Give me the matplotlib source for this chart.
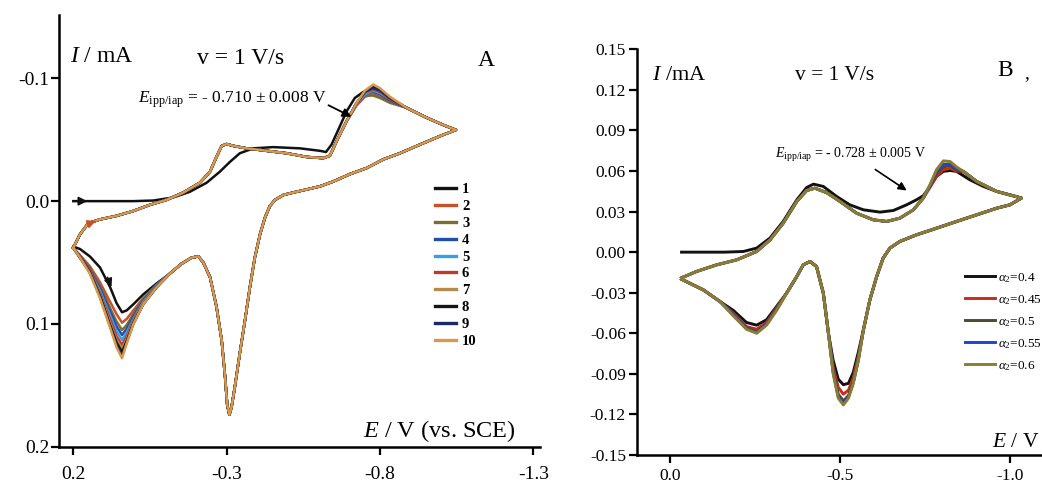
import matplotlib
matplotlib.use('Agg')
import matplotlib.pyplot as plt

plt.rcParams['font.family'] = ['Liberation Serif', 'DejaVu Serif']
plt.rcParams['mathtext.fontset'] = 'custom'
plt.rcParams['mathtext.rm'] = 'Liberation Serif'
plt.rcParams['mathtext.it'] = 'Liberation Serif:italic'
plt.rcParams['mathtext.bf'] = 'Liberation Serif:bold'

# ---------------- Panel A data (E / V, I / mA) ----------------
A_labels = ['1', '2', '3', '4', '5', '6', '7', '8', '9', '10']
A_colors = ['#111111', '#c8502a', '#7d6b35', '#1f4fa8', '#3a9ee6',
            '#c0392b', '#b8894a', '#151515', '#1b2a66', '#d9984a']

# cycle 1 forward scan (starts at I = 0)
A_c1_fwd_E = [0.200, 0.113, 0.004, -0.061, -0.126, -0.180, -0.235, -0.278, -0.311, -0.343,
              -0.387, -0.452, -0.539, -0.604, -0.624, -0.642, -0.664, -0.691, -0.718, -0.746,
              -0.773, -0.800, -0.843]
A_c1_fwd_I = [0.000, 0.000, 0.000, -0.0005, -0.003, -0.0076, -0.015, -0.024, -0.032, -0.039,
              -0.043, -0.044, -0.043, -0.041, -0.040, -0.046, -0.058, -0.073, -0.084, -0.089,
              -0.0905, -0.088, -0.081]

# forward scan of cycles 2-10 (shared part)
A_fwd_pre_E = [0.200, 0.178, 0.151, 0.113, 0.059, 0.004, -0.050, -0.104, -0.159, -0.213,
               -0.246, -0.267, -0.284, -0.300, -0.322, -0.365, -0.430, -0.496, -0.561, -0.615,
               -0.637, -0.659, -0.691]
A_fwd_pre_I = [0.038, 0.027, 0.018, 0.0149, 0.012, 0.008, 0.003, -0.001, -0.007, -0.015,
               -0.024, -0.036, -0.045, -0.0465, -0.045, -0.043, -0.041, -0.039, -0.036, -0.035,
               -0.037, -0.049, -0.065]
# second anodic peak, cycles 2..10
A_fwd_win_E = [-0.724, -0.751, -0.778, -0.800, -0.833]
A_fwd_win_I = [
    [-0.078, -0.085, -0.087, -0.085, -0.081],
    [-0.079, -0.086, -0.086, -0.084, -0.080],
    [-0.079, -0.087, -0.089, -0.087, -0.082],
    [-0.079, -0.087, -0.090, -0.088, -0.083],
    [-0.080, -0.088, -0.091, -0.089, -0.083],
    [-0.080, -0.088, -0.092, -0.090, -0.084],
    [-0.080, -0.089, -0.093, -0.091, -0.084],
    [-0.080, -0.089, -0.092, -0.090, -0.084],
    [-0.080, -0.090, -0.095, -0.092, -0.085],
]
A_fwd_post_E = [-0.887, -0.952, -1.007, -1.048]
A_fwd_post_I = [-0.076, -0.068, -0.062, -0.058]

# reverse scan (shared part)
A_rev_E = [-1.048, -0.996, -0.930, -0.865, -0.811, -0.757, -0.702, -0.648, -0.604, -0.561,
           -0.517, -0.485, -0.458, -0.441, -0.425, -0.409, -0.392, -0.376, -0.360, -0.343,
           -0.327, -0.316, -0.309, -0.302, -0.295, -0.284, -0.267, -0.246, -0.224, -0.208,
           -0.186, -0.153, -0.115]
A_rev_I = [-0.058, -0.053, -0.046, -0.039, -0.034, -0.027, -0.022, -0.016, -0.012, -0.0095,
           -0.007, -0.005, -0.001, 0.004, 0.0135, 0.027, 0.046, 0.070, 0.097, 0.124,
           0.151, 0.168, 0.174, 0.166, 0.143, 0.1135, 0.086, 0.062, 0.050, 0.045,
           0.046, 0.051, 0.059]
# first cathodic peak, cycles 1..10
A_rev_tail_E = [-0.072, -0.028, 0.004, 0.026, 0.041, 0.059, 0.080, 0.113, 0.146, 0.178, 0.200]
A_rev_tail_I = [
    [0.067, 0.076, 0.084, 0.089, 0.0905, 0.083, 0.070, 0.054, 0.045, 0.039, 0.037],
    [0.068, 0.079, 0.089, 0.096, 0.099, 0.092, 0.082, 0.066, 0.053, 0.044, 0.038],
    [0.069, 0.080, 0.092, 0.101, 0.105, 0.098, 0.087, 0.069, 0.055, 0.045, 0.038],
    [0.069, 0.081, 0.094, 0.104, 0.109, 0.102, 0.090, 0.071, 0.056, 0.045, 0.038],
    [0.069, 0.082, 0.096, 0.107, 0.113, 0.106, 0.093, 0.073, 0.057, 0.046, 0.038],
    [0.070, 0.083, 0.097, 0.110, 0.117, 0.110, 0.096, 0.075, 0.057, 0.046, 0.038],
    [0.070, 0.083, 0.098, 0.112, 0.120, 0.113, 0.099, 0.076, 0.058, 0.046, 0.038],
    [0.070, 0.084, 0.099, 0.114, 0.123, 0.115, 0.101, 0.077, 0.058, 0.046, 0.038],
    [0.070, 0.084, 0.100, 0.115, 0.126, 0.117, 0.102, 0.078, 0.058, 0.046, 0.038],
    [0.070, 0.084, 0.100, 0.116, 0.128, 0.119, 0.103, 0.079, 0.059, 0.046, 0.038],
]
A_xticks = [0.2, -0.3, -0.8, -1.3]
A_xticklabels = ['0.2', '-0.3', '-0.8', '-1.3']
A_yticks = [-0.1, 0.0, 0.1, 0.2]
A_yticklabels = ['-0.1', '0.0', '0.1', '0.2']

# ---------------- Panel B data ----------------
B_labels = [r'$\alpha_2$=0.4', r'$\alpha_2$=0.45', r'$\alpha_2$=0.5',
            r'$\alpha_2$=0.55', r'$\alpha_2$=0.6']
B_colors = ['#111111', '#cc2a1a', '#4d4a30', '#1a45d0', '#8c7d2e']

B_black_fwd_E = [-0.034, -0.100, -0.160, -0.216, -0.255, -0.294, -0.333, -0.373, -0.402, -0.422,
                 -0.451, -0.490, -0.529, -0.569, -0.618, -0.657, -0.696, -0.725, -0.745, -0.765,
                 -0.784, -0.804, -0.824, -0.843, -0.882, -0.922, -0.961, -1.000, -1.034]
B_black_fwd_I = [0.000, 0.000, 0.000, 0.0005, 0.003, 0.0104, 0.0227, 0.0387, 0.0478, 0.0503,
                 0.0486, 0.0412, 0.035, 0.0313, 0.0296, 0.0308, 0.035, 0.0387, 0.0417, 0.0486,
                 0.056, 0.0597, 0.0604, 0.0597, 0.0535, 0.0486, 0.0449, 0.0424, 0.040]

B_fwd_pre_E = [-0.034, -0.078, -0.137, -0.196, -0.255, -0.294, -0.333, -0.373, -0.402, -0.426,
               -0.461, -0.500, -0.549, -0.598, -0.637, -0.676, -0.716, -0.745]
B_fwd_pre_I = [-0.019, -0.0143, -0.0094, -0.0057, 0.0005, 0.009, 0.0214, 0.0375, 0.0456, 0.0473,
               0.044, 0.0375, 0.0288, 0.0239, 0.0227, 0.0251, 0.0313, 0.040]
B_fwd_win_E = [-0.765, -0.784, -0.804, -0.824, -0.843]
B_fwd_win_I = [
    [0.048, 0.056, 0.061, 0.062, 0.060],
    [0.049, 0.058, 0.063, 0.064, 0.061],
    [0.0495, 0.060, 0.065, 0.065, 0.062],
    [0.050, 0.061, 0.0675, 0.067, 0.063],
]
B_fwd_post_E = [-0.863, -0.902, -0.961, -1.034]
B_fwd_post_I = [0.0597, 0.0523, 0.0449, 0.040]

B_rev_pre_E = [-1.034, -1.000, -0.961, -0.902, -0.843, -0.784, -0.725, -0.676, -0.647, -0.627,
               -0.608, -0.588, -0.569]
B_rev_pre_I = [0.040, 0.035, 0.0325, 0.0276, 0.0227, 0.0177, 0.0128, 0.0079, 0.003, -0.0044,
               -0.018, -0.0352, -0.0574]
B_rev_win1_E = [-0.554, -0.539, -0.525, -0.510, -0.495, -0.480]
B_rev_win1_I = [
    [-0.074, -0.089, -0.097, -0.098, -0.094, -0.080],
    [-0.077, -0.093, -0.102, -0.105, -0.100, -0.085],
    [-0.079, -0.096, -0.106, -0.110, -0.105, -0.088],
    [-0.080, -0.097, -0.107, -0.112, -0.107, -0.089],
    [-0.080, -0.097, -0.108, -0.113, -0.108, -0.090],
]
B_rev_mid_E = [-0.466, -0.451, -0.431, -0.412, -0.392, -0.373, -0.343]
B_rev_mid_I = [-0.0599, -0.0303, -0.0106, -0.0069, -0.0094, -0.018, -0.0303]
B_rev_win2_E = [-0.314, -0.284, -0.255, -0.225, -0.186]
B_rev_win2_I = [
    [-0.040, -0.050, -0.054, -0.052, -0.043],
    [-0.041, -0.052, -0.057, -0.055, -0.045],
    [-0.042, -0.053, -0.059, -0.056, -0.046],
    [-0.0425, -0.0535, -0.0595, -0.0565, -0.0465],
    [-0.043, -0.054, -0.060, -0.057, -0.047],
]
B_rev_post_E = [-0.147, -0.098, -0.034]
B_rev_post_I = [-0.0365, -0.0279, -0.020]

B_xticks = [0.0, -0.5, -1.0]
B_xticklabels = ['0.0', '-0.5', '-1.0']
B_yticks = [0.15, 0.12, 0.09, 0.06, 0.03, 0.0, -0.03, -0.06, -0.09, -0.12, -0.15]
B_yticklabels = ['0.15', '0.12', '0.09', '0.06', '0.03', '0.00', '-0.03', '-0.06',
                 '-0.09', '-0.12', '-0.15']

# ---------------- figure ----------------
W, H = 1042, 486
fig = plt.figure(figsize=(W / 100, H / 100), dpi=100)


def px_rect(l, t, r, b):
    return [l / W, 1 - b / H, (r - l) / W, (b - t) / H]


def fx(x):
    return x / W


def fy(y):
    return 1 - y / H


axA = fig.add_axes(px_rect(59.3, 15, 540, 446.7))
axB = fig.add_axes(px_rect(637, 49.3, 1046, 455))

for ax in (axA, axB):
    ax.patch.set_alpha(0)
    for s in ('top', 'right'):
        ax.spines[s].set_visible(False)
    for s in ('left', 'bottom'):
        ax.spines[s].set_linewidth(1.8)
    ax.tick_params(direction='out', length=6, width=1.6, color='black')

# ---- panel A curves ----
for c in range(10):
    if c == 0:
        E = A_c1_fwd_E + A_fwd_post_E + A_rev_E + A_rev_tail_E
        I = A_c1_fwd_I + A_fwd_post_I + A_rev_I + A_rev_tail_I[0]
    else:
        E = A_fwd_pre_E + A_fwd_win_E + A_fwd_post_E + A_rev_E + A_rev_tail_E
        I = A_fwd_pre_I + A_fwd_win_I[c - 1] + A_fwd_post_I + A_rev_I + A_rev_tail_I[c]
    axA.plot(E, I, color=A_colors[c], lw=1.8, label=A_labels[c], solid_joinstyle='round')

axA.set_xlim(0.2456, -1.322)
axA.set_ylim(0.2, -0.1516)
axA.set_xticks(A_xticks)
axA.set_xticklabels(A_xticklabels)
axA.set_yticks(A_yticks)
axA.set_yticklabels(A_yticklabels)
axA.tick_params(labelsize=14)
axA.tick_params(axis='y', pad=1)
axA.tick_params(axis='x', pad=8)

# direction arrows on panel A
axA.annotate('', xy=(0.145, 0.0), xytext=(0.175, 0.0),
             arrowprops=dict(arrowstyle='-|>', color='#111111', lw=1.2, mutation_scale=13))
axA.annotate('', xy=(0.118, 0.0155), xytext=(0.140, 0.0175),
             arrowprops=dict(arrowstyle='-|>', color='#c8502a', lw=1.2, mutation_scale=12))
axA.annotate('', xy=(0.072, 0.072), xytext=(0.092, 0.060),
             arrowprops=dict(arrowstyle='-|>', color='#111111', lw=1.2, mutation_scale=12))

axA.legend(loc='upper left', bbox_to_anchor=(fx(435), fy(183)), bbox_transform=fig.transFigure,
           frameon=False, prop={'size': 10.5, 'weight': 'bold'}, handlelength=1.45,
           handletextpad=0.4, labelspacing=0.25, borderpad=0, borderaxespad=0)
for ln in axA.get_legend().get_lines():
    ln.set_linewidth(2.4)

# ---- panel B curves ----
for k in range(5):
    if k == 0:
        E = B_black_fwd_E
        I = B_black_fwd_I
    else:
        E = B_fwd_pre_E + B_fwd_win_E + B_fwd_post_E
        I = B_fwd_pre_I + B_fwd_win_I[k - 1] + B_fwd_post_I
    E = E + B_rev_pre_E + B_rev_win1_E + B_rev_mid_E + B_rev_win2_E + B_rev_post_E
    I = I + B_rev_pre_I + B_rev_win1_I[k] + B_rev_mid_I + B_rev_win2_I[k] + B_rev_post_I
    axB.plot(E, I, color=B_colors[k], lw=2.1, label=B_labels[k], solid_joinstyle='round')

axB.set_xlim(0.097, -1.106)
axB.set_ylim(-0.15, 0.15)
axB.set_xticks(B_xticks)
axB.set_xticklabels(B_xticklabels)
axB.set_yticks(B_yticks)
axB.set_yticklabels(B_yticklabels)
axB.tick_params(labelsize=12.5)
axB.tick_params(axis='y', pad=2)
axB.tick_params(axis='x', pad=3.5)

axB.legend(loc='upper left', bbox_to_anchor=(fx(965), fy(271)), bbox_transform=fig.transFigure,
           frameon=False, fontsize=9.5, handlelength=2.3, handletextpad=0.2,
           labelspacing=0.62, borderpad=0, borderaxespad=0)

# ---- texts ----
fig.text(fx(70), fy(56), r'$I$ / mA', fontsize=17, va='center', ha='left')
fig.text(fx(197), fy(58), 'v = 1 V/s', fontsize=17, va='center', ha='left')
fig.text(fx(478), fy(60), 'A', fontsize=17, va='center', ha='left')
fig.text(fx(363), fy(431), r'$E$ / V (vs. SCE)', fontsize=17.5, va='center', ha='left')
fig.text(fx(138), fy(100), r'$E_{\mathrm{ipp/iap}}$ = - 0.710 ± 0.008 V', fontsize=12.5,
         va='center', ha='left')
axA.annotate('', xy=(fx(354), fy(118)), xytext=(fx(326), fy(104)),
             xycoords='figure fraction', textcoords='figure fraction',
             arrowprops=dict(arrowstyle='-|>', color='black', lw=1.3, mutation_scale=13))

fig.text(fx(652), fy(75), r'$I$ /mA', fontsize=16, va='center', ha='left')
fig.text(fx(795), fy(75), 'v = 1 V/s', fontsize=15.5, va='center', ha='left')
fig.text(fx(997), fy(70), 'B', fontsize=17, va='center', ha='left')
fig.text(fx(1024), fy(74), ',', fontsize=14, va='center', ha='left')
fig.text(fx(992), fy(442), r'$E$ / V', fontsize=15.5, va='center', ha='left')
fig.text(fx(775), fy(155), r'$E_{\mathrm{ipp/iap}}$ = - 0.728 ± 0.005 V', fontsize=10,
         va='center', ha='left')
axB.annotate('', xy=(fx(909), fy(192)), xytext=(fx(873), fy(168)),
             xycoords='figure fraction', textcoords='figure fraction',
             arrowprops=dict(arrowstyle='-|>', color='black', lw=1.2, mutation_scale=12))

fig.savefig('out.png', dpi=100)
